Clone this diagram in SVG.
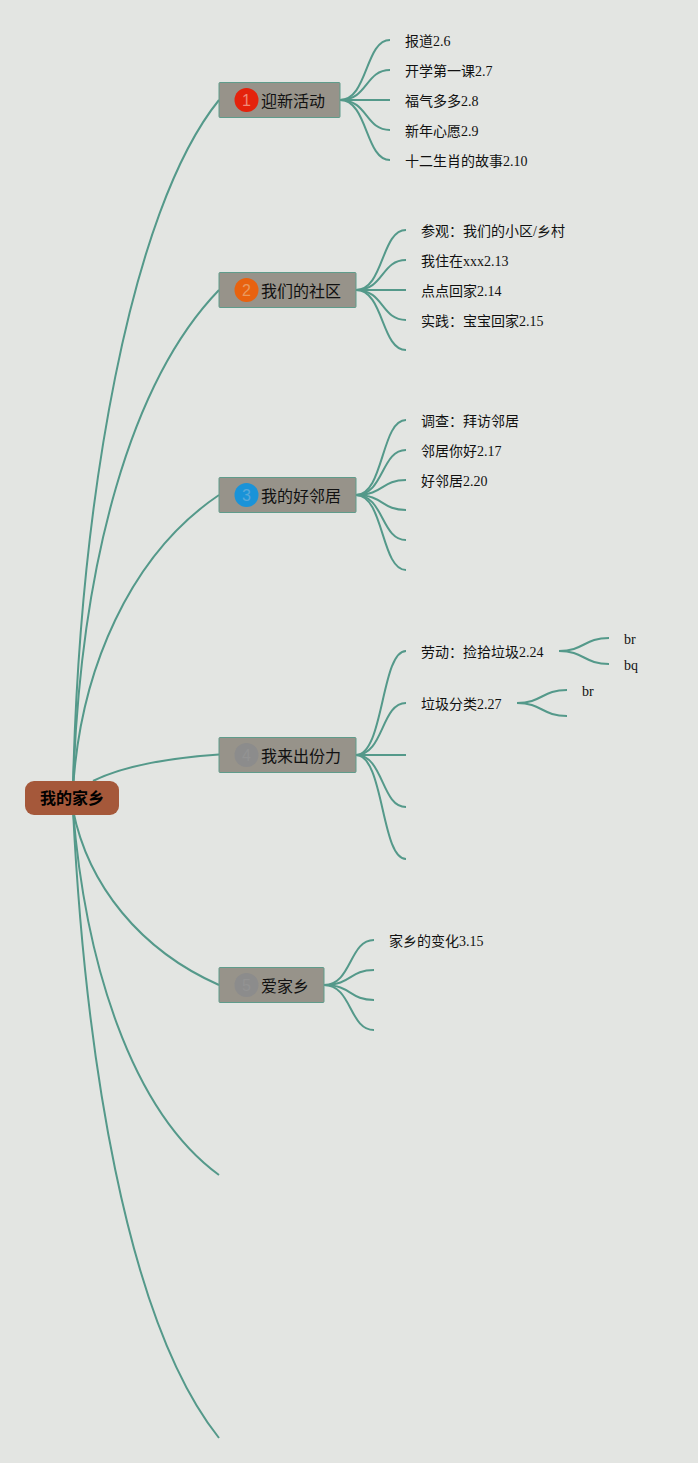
<svg xmlns="http://www.w3.org/2000/svg" width="698" height="1463" viewBox="0 0 698 1463">
<style>
text{font-family:"Liberation Serif","Noto Sans CJK SC",serif;fill:#111}
.l{font-size:14px}
.t{font-size:16px}
.n{font-family:"Liberation Sans",sans-serif;font-size:16px;text-anchor:middle}
.b{fill:#97938a;stroke:#5f9c8b;stroke-width:1}
#c path{fill:none;stroke:#54998a;stroke-width:2}
</style>
<rect width="698" height="1463" fill="#e3e5e2"/>
<g id="c">
<path d="M73,785 C80,500 130,210 219,100"/>
<path d="M73,790 C80,560 132,380 219,290"/>
<path d="M73,790 C80,670 130,555 219,495"/>
<path d="M93,781 C125,765 170,758 219,754.500"/>
<path d="M73,810 C88,885 140,950 219,985"/>
<path d="M73,810 C85,960 130,1110 219,1175"/>
<path d="M73,810 C85,1050 125,1320 219,1438"/>
<path d="M340,100 C368,100 365,40 390,40"/>
<path d="M340,100 C368,100 365,70 390,70"/>
<path d="M340,100 H390"/>
<path d="M340,100 C368,100 365,130 390,130"/>
<path d="M340,100 C368,100 365,160 390,160"/>
<path d="M356,290 C384,290 381,230 406,230"/>
<path d="M356,290 C384,290 381,260 406,260"/>
<path d="M356,290 H406"/>
<path d="M356,290 C384,290 381,320 406,320"/>
<path d="M356,290 C384,290 381,350 406,350"/>
<path d="M356,495 C384,495 381,420 406,420"/>
<path d="M356,495 C384,495 381,450 406,450"/>
<path d="M356,495 C384,495 381,480 406,480"/>
<path d="M356,495 C384,495 381,510 406,510"/>
<path d="M356,495 C384,495 381,540 406,540"/>
<path d="M356,495 C384,495 381,570 406,570"/>
<path d="M356,755 C384,755 381,651 406,651"/>
<path d="M356,755 C384,755 381,703 406,703"/>
<path d="M356,755 H406"/>
<path d="M356,755 C384,755 381,807 406,807"/>
<path d="M356,755 C384,755 381,859 406,859"/>
<path d="M324,985 C352,985 349,940 374,940"/>
<path d="M324,985 C352,985 349,970 374,970"/>
<path d="M324,985 C352,985 349,1000 374,1000"/>
<path d="M324,985 C352,985 349,1030 374,1030"/>
<path d="M559,651 C584,651 584,638 609,638"/>
<path d="M559,651 C584,651 584,664 609,664"/>
<path d="M517,703 C542,703 542,690 567,690"/>
<path d="M517,703 C542,703 542,716 567,716"/>
</g>
<g id="root"><rect x="25" y="781" width="94" height="34" rx="9" fill="#a5583a"/><text x="72" y="804" font-size="16" font-weight="700" text-anchor="middle" style="fill:#000">我的家乡</text></g>
<g id="n1"><rect class="b" x="219" y="82.500" width="121" height="35" rx="1"/><circle cx="246.500" cy="100" r="12" fill="#e4220c"/><text class="n" x="246.500" y="106" style="fill:#ef8a78">1</text><text class="t" x="261" y="107">迎新活动</text></g>
<g id="n2"><rect class="b" x="219" y="272.500" width="137" height="35" rx="1"/><circle cx="246.500" cy="290" r="12" fill="#e8620f"/><text class="n" x="246.500" y="296" style="fill:#e89a60">2</text><text class="t" x="261" y="297">我们的社区</text></g>
<g id="n3"><rect class="b" x="219" y="477.500" width="137" height="35" rx="1"/><circle cx="246.500" cy="495" r="12" fill="#1a93d8"/><text class="n" x="246.500" y="501" style="fill:#5aa8d8">3</text><text class="t" x="261" y="502">我的好邻居</text></g>
<g id="n4"><rect class="b" x="219" y="737.500" width="137" height="35" rx="1"/><circle cx="246.500" cy="755" r="12" fill="#8c8c8c"/><text class="n" x="246.500" y="761" style="fill:#939393">4</text><text class="t" x="261" y="762">我来出份力</text></g>
<g id="n5"><rect class="b" x="219" y="967.500" width="105" height="35" rx="1"/><circle cx="246.500" cy="985" r="12" fill="#8c8c8c"/><text class="n" x="246.500" y="991" style="fill:#939393">5</text><text class="t" x="261" y="992">爱家乡</text></g>
<g id="leaves">
<text class="l" x="405" y="46">报道2.6</text>
<text class="l" x="405" y="76">开学第一课2.7</text>
<text class="l" x="405" y="106">福气多多2.8</text>
<text class="l" x="405" y="136">新年心愿2.9</text>
<text class="l" x="405" y="166">十二生肖的故事2.10</text>
<text class="l" x="421" y="236">参观：我们的小区/乡村</text>
<text class="l" x="421" y="266">我住在xxx2.13</text>
<text class="l" x="421" y="296">点点回家2.14</text>
<text class="l" x="421" y="326">实践：宝宝回家2.15</text>
<text class="l" x="421" y="426">调查：拜访邻居</text>
<text class="l" x="421" y="456">邻居你好2.17</text>
<text class="l" x="421" y="486">好邻居2.20</text>
<text class="l" x="421" y="657">劳动：捡拾垃圾2.24</text>
<text class="l" x="421" y="709">垃圾分类2.27</text>
<text class="l" x="389" y="946">家乡的变化3.15</text>
<text class="l" x="624" y="644">br</text>
<text class="l" x="624" y="670">bq</text>
<text class="l" x="582" y="696">br</text>
</g>
</svg>
